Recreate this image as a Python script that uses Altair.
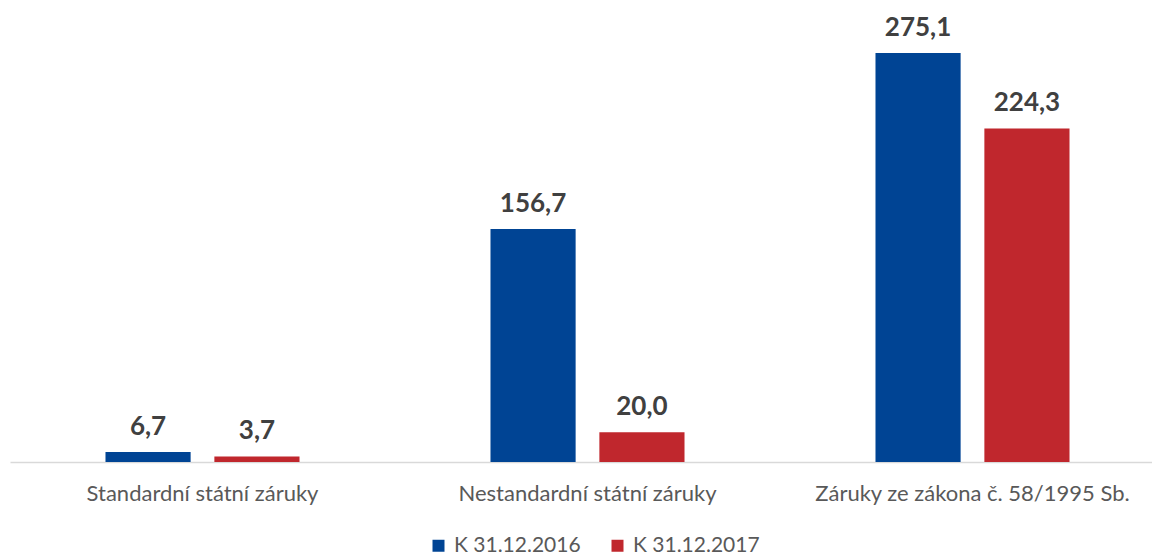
import altair as alt
import pandas as pd

categories = ["Standardní státní záruky", "Nestandardní státní záruky", "Záruky ze zákona č. 58/1995 Sb."]
series = ["K 31.12.2016", "K 31.12.2017"]
values_2016 = [6.7, 156.7, 275.1]
values_2017 = [3.7, 20.0, 224.3]

rows = []
for c, v in zip(categories, values_2016):
    rows.append({"cat": c, "series": series[0], "value": v})
for c, v in zip(categories, values_2017):
    rows.append({"cat": c, "series": series[1], "value": v})
df = pd.DataFrame(rows)
df["label"] = df["value"].map(lambda v: f"{v:.1f}".replace(".", ","))

FONT = "Lato"

x = alt.X("cat:N", sort=categories, title=None,
          scale=alt.Scale(paddingInner=0, paddingOuter=0, range=[0, 1155]),
          axis=alt.Axis(labelFont=FONT, labelFontSize=22, labelColor="#595959",
                        labelAngle=0, ticks=False, domainColor="#D9D9D9", domainWidth=1.5,
                        labelPadding=21, labelLimit=400))
xo = alt.XOffset("series:N", sort=series,
                 scale=alt.Scale(paddingInner=0.218, paddingOuter=0.877))
y = alt.Y("value:Q", scale=alt.Scale(domain=[0, 310.7], nice=False), axis=None)

bars = alt.Chart(df).mark_bar().encode(
    x=x, xOffset=xo, y=y,
    color=alt.Color("series:N", sort=series,
                    scale=alt.Scale(domain=series, range=["#004494", "#C0272D"]),
                    legend=alt.Legend(title=None, orient="none", direction="horizontal",
                                      legendX=418, legendY=535, symbolType="square",
                                      symbolSize=144, symbolStrokeWidth=0,
                                      labelFont=FONT, labelFontSize=21, labelColor="#595959",
                                      columnPadding=26, labelOffset=5)),
)

labels = alt.Chart(df).mark_text(baseline="bottom", dy=-12, font=FONT, fontSize=26,
                                 fontWeight="bold", color="#404040").encode(
    x=x, xOffset=xo, y=y, text="label:N")

chart = (bars + labels).properties(
    width=1142, height=462,
    autosize=alt.AutoSizeParams(type="none"),
    padding={"left": 10, "top": 0, "right": 0, "bottom": 93},
).configure(background="white").configure_view(stroke=None)

chart.save("out.html", embed_options={"renderer": "svg", "actions": False})
